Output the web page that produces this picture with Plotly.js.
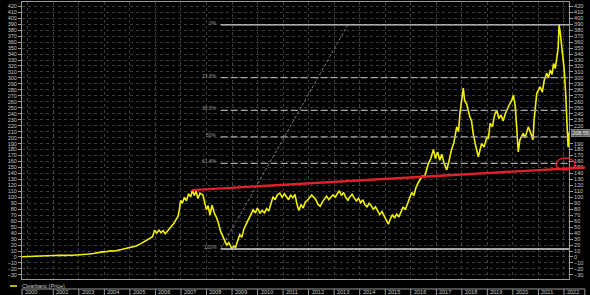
<!DOCTYPE html>
<html>
<head>
<meta charset="utf-8">
<script src="https://cdn.plot.ly/plotly-3.0.1.min.js"></script>
<style>html,body{margin:0;padding:0;background:#000;}#chart{width:590px;height:295px;}</style>
</head>
<body>
<div id="chart"></div>
<script>
// ---- data ----
const seriesName = "Clearbanc (Price)";
const dates = [
"2000-10-10","2000-12-01","2001-02-01","2001-04-01","2001-06-01","2001-08-01","2001-10-01","2001-12-01",
"2002-02-01","2002-04-01","2002-06-01","2002-08-01","2002-10-01","2002-12-01",
"2003-02-01","2003-04-01","2003-06-01","2003-08-01","2003-10-01","2003-12-01",
"2004-02-01","2004-04-01","2004-06-01","2004-08-01","2004-10-01","2004-12-01",
"2005-02-01","2005-04-01","2005-06-01","2005-08-01","2005-10-01","2005-11-20","2005-12-20",
"2006-01-20","2006-02-20","2006-03-20","2006-04-20","2006-05-20","2006-06-20","2006-07-20","2006-08-20","2006-09-20","2006-10-20","2006-11-20","2006-12-10","2006-12-28",
"2007-01-20","2007-02-20","2007-03-20","2007-04-20","2007-05-20","2007-06-15","2007-07-10","2007-08-05","2007-09-01","2007-10-01","2007-11-10","2007-12-10",
"2008-01-01","2008-01-25","2008-02-20","2008-03-20","2008-04-20","2008-05-20","2008-06-15","2008-07-15","2008-08-20","2008-09-20","2008-10-15","2008-11-15","2008-12-28",
"2009-01-25","2009-02-20","2009-03-10","2009-04-20","2009-05-20","2009-06-20","2009-07-25","2009-08-20","2009-09-20","2009-10-30","2009-11-30","2009-12-30",
"2010-02-05","2010-03-05","2010-04-10","2010-05-10","2010-06-10","2010-07-10","2010-08-10","2010-09-10","2010-10-10","2010-11-15","2010-12-20",
"2011-01-20","2011-02-20","2011-03-20","2011-04-20","2011-05-20","2011-06-20","2011-07-15","2011-08-15","2011-09-15","2011-10-15","2011-11-15","2011-12-15",
"2012-01-15","2012-02-15","2012-03-15","2012-04-15","2012-05-15","2012-06-15","2012-07-15","2012-08-15","2012-09-15","2012-10-15","2012-11-15","2012-12-15",
"2013-01-15","2013-02-15","2013-03-15","2013-04-15","2013-05-15","2013-06-15","2013-07-15","2013-08-15","2013-09-15","2013-10-15","2013-11-15","2013-12-15",
"2014-01-15","2014-02-15","2014-03-15","2014-04-15","2014-05-15","2014-06-15","2014-07-15","2014-08-15","2014-09-15","2014-10-15","2014-11-15","2014-12-15",
"2015-01-15","2015-02-15","2015-03-15","2015-04-15","2015-05-15","2015-06-15","2015-07-15","2015-08-15","2015-09-15","2015-10-15","2015-11-15","2015-12-15",
"2016-01-15","2016-02-15","2016-03-15","2016-04-15","2016-05-15","2016-06-15","2016-07-15","2016-08-15","2016-09-15","2016-10-15","2016-11-20","2016-12-20",
"2017-01-20","2017-02-20","2017-03-20","2017-04-20","2017-05-30","2017-06-30","2017-08-05","2017-09-10","2017-10-20","2017-11-15","2017-12-05",
"2018-01-22","2018-02-10","2018-03-10","2018-04-05","2018-04-25","2018-05-20","2018-06-12","2018-07-20","2018-08-25","2018-09-20","2018-10-12","2018-11-15","2018-12-25",
"2019-01-15","2019-02-10","2019-03-15","2019-04-15","2019-05-15","2019-06-15","2019-07-15","2019-08-15","2019-09-15","2019-10-05","2019-11-10","2019-12-15",
"2020-01-08","2020-02-05","2020-02-24","2020-03-18","2020-04-10","2020-05-28","2020-06-25","2020-08-08","2020-09-05","2020-09-28","2020-10-15","2020-10-30","2020-12-08",
"2021-01-25","2021-02-25","2021-03-25","2021-04-30","2021-05-25","2021-06-18","2021-07-15","2021-08-05","2021-08-30","2021-09-20","2021-10-10","2021-10-23","2021-11-10","2021-12-05",
"2022-01-01","2022-01-25","2022-02-01","2022-02-17","2022-03-02","2022-03-12"
];
const prices = [
0.5,0.8,1.2,1.0,1.5,1.3,1.8,2.2,
2.5,3.0,2.6,2.4,2.9,3.4,
3.6,4.2,5.0,5.8,7.5,8.5,
9.0,10.5,10.0,11.5,13.0,15.5,
17.0,18.5,22.0,26.0,30.0,34,45,
40,45,41,44,39,43,47,50,56,62,68,80,95,
90,100,94,106,101,112,103,110,98,107,104,92,
79,86,70,87,74,67,59,45,34,27,20,24,14.6,
18,16,23,37,33,47,56,62,70,79,74,82,
73,78,74,81,77,90,101,96,104,107,100,
106,101,96,104,99,105,90,78,88,82,92,95,
99,104,100,96,88,85,92,98,102,96,100,104,
100,106,111,103,108,100,95,101,105,99,94,98,
91,96,88,84,90,86,80,84,78,71,76,69,
62,55,64,71,65,72,67,76,84,79,90,99,
108,103,116,124,130,136,134,148,158,165,180,165,
176,162,172,158,146,160,179,192,218,210,241,
283,262,257,244,235,228,207,185,168,180,190,184,201,
198,224,218,238,246,232,238,228,240,246,255,262,
271,252,218,176,196,207,200,218,210,201,196,229,274,
285,276,296,308,300,313,306,324,316,330,350,389,375,347,
318,275,241,213,184,208.55
];
const lastPriceLabel = "208.55";
const yTickVals = [-30,-20,-10,0,10,20,30,40,50,60,70,80,90,100,110,120,130,140,150,160,170,180,190,200,210,220,230,240,250,260,270,280,290,300,310,320,330,340,350,360,370,380,390,400,410,420];
const yearLabels = ["2000","2002","2003","2004","2005","2006","2007","2008","2009","2010","2011","2012","2013","2014","2015","2016","2017","2018","2019","2020","2021","2022"];
const yearStarts = ["2000-10-10","2002-01-01","2003-01-01","2004-01-01","2005-01-01","2006-01-01","2007-01-01","2008-01-01","2009-01-01","2010-01-01","2011-01-01","2012-01-01","2013-01-01","2014-01-01","2015-01-01","2016-01-01","2017-01-01","2018-01-01","2019-01-01","2020-01-01","2021-01-01","2022-01-01"];
// Fibonacci retracement anchors
const fibStart = "2008-07-22", fibLow = 13.4;
const fibEnd = "2013-07-16", fibHigh = 389;
const fibLevels = [0, 23.6, 38.2, 50, 61.8, 100];
const fibLabels = ["0%", "23.6%", "38.2%", "50%", "61.8%", "100%"];
// Red trend line
const trendStart = "2007-06-03", trendStartVal = 112;
const trendEnd = "2022-10-30", trendEndVal = 150;
// Red ellipse
const ringX = ["2021-09-09", "2022-06-06"], ringY = [145.7, 165.8];

// ---- layout helpers ----
const xRange = ["2000-10-10", "2022-03-14"];
const yRange = [-36.9, 427.2];
const t0 = Date.parse(xRange[0]), t1 = Date.parse(xRange[1]);
const px = d => (Date.parse(d) - t0) / (t1 - t0);

const gridCol = "#3c3c3c", lblCol = "#c8c8c8", fnt = "Liberation Sans, Arial, sans-serif";

const shapes = [];
const annotations = [];

// fib lines
const fibStep = fibHigh - fibLow;
fibLevels.forEach((p, i) => {
  const v = fibHigh - fibStep * p / 100;
  const solid = (p === 0 || p === 100);
  shapes.push({type: "line", xref: "x", yref: "y", x0: fibStart, x1: xRange[1], y0: v, y1: v,
    line: {color: solid ? "#d8d8d8" : "#a8a8a8", width: solid ? 1.3 : 1.2, dash: solid ? "solid" : "7px,3px"}});
  annotations.push({xref: "x", yref: "y", x: fibStart, y: v, xanchor: "right", yanchor: "middle", xshift: -2, yshift: 2,
    text: fibLabels[i], showarrow: false, font: {size: 5, color: "#9a9a9a", family: fnt}});
});
// diagonal fib trend
shapes.push({type: "line", xref: "x", yref: "y", x0: fibStart, y0: fibLow, x1: fibEnd, y1: fibHigh,
  line: {color: "#9a9a9a", width: 0.8, dash: "3px,2px"}});
// red trend line (extends past plot edge)
shapes.push({type: "line", xref: "paper", yref: "y", x0: px(trendStart), y0: trendStartVal, x1: px(trendEnd), y1: trendEndVal,
  line: {color: "#e0202a", width: 2.4}});
// red ellipse
shapes.push({type: "circle", xref: "paper", yref: "y", x0: px(ringX[0]), x1: px(ringX[1]), y0: ringY[0], y1: ringY[1],
  line: {color: "#e0202a", width: 1.4}});

// year boxes row
const boxTop = -0.0361, boxBot = -0.07, boxRight = 1.029;
shapes.push({type: "line", xref: "paper", yref: "paper", x0: 0, x1: boxRight, y0: boxTop, y1: boxTop, line: {color: "#9a9a9a", width: 1}});
yearStarts.forEach((d, i) => {
  const xp = px(d);
  shapes.push({type: "line", xref: "paper", yref: "paper", x0: xp, x1: xp, y0: boxTop, y1: boxBot, line: {color: "#9a9a9a", width: 1}});
  annotations.push({xref: "paper", yref: "paper", x: xp, y: -0.047, xanchor: "left", yanchor: "middle", xshift: 1,
    text: yearLabels[i], showarrow: false, font: {size: 5.5, color: lblCol, family: fnt}});
});
shapes.push({type: "line", xref: "paper", yref: "paper", x0: boxRight, x1: boxRight, y0: boxTop, y1: boxBot, line: {color: "#9a9a9a", width: 1}});

// legend
shapes.push({type: "line", xref: "paper", yref: "paper", x0: -0.022, x1: -0.009, y0: -0.0253, y1: -0.0253, line: {color: "#f2f200", width: 1.5}});
annotations.push({xref: "paper", yref: "paper", x: -0.004, y: -0.0253, xanchor: "left", yanchor: "middle",
  text: seriesName, showarrow: false, font: {size: 5.5, color: lblCol, family: fnt}});

// last price label on right axis
const lastVal = prices[prices.length - 1];
annotations.push({xref: "paper", yref: "y", x: 1.004, y: lastVal, xanchor: "left", yanchor: "middle",
  text: lastPriceLabel, showarrow: false, bgcolor: "#5a5a5a", bordercolor: "#a0a0a0", borderwidth: 0.6, borderpad: 0.5,
  font: {size: 5.5, color: "#eeeeee", family: fnt}});
// right-axis labels hidden behind the price box
const rightTicks = yTickVals.filter(v => Math.abs(v - lastVal) > 10);

const traces = [
  {type: "scatter", mode: "lines", x: dates, y: prices, name: seriesName,
   line: {color: "#f2f200", width: 1.6}, hoverinfo: "skip"},
  {type: "scatter", mode: "lines", x: dates, y: prices, yaxis: "y2", opacity: 0, showlegend: false, hoverinfo: "skip",
   line: {color: "rgba(0,0,0,0)", width: 0}}
];

const yAxisCommon = {
  range: yRange, ticks: "outside", ticklen: 3, tickwidth: 1, tickcolor: "#9a9a9a",
  tickfont: {size: 5.5, color: lblCol, family: fnt}, zeroline: false, fixedrange: true
};

const layout = {
  width: 590, height: 295,
  margin: {l: 22, r: 21, t: 2, b: 16, pad: 0},
  paper_bgcolor: "#000", plot_bgcolor: "#000",
  showlegend: false,
  xaxis: {type: "date", range: xRange, tick0: "2000-01-01", dtick: "M12", showticklabels: false, ticks: "",
    showgrid: true, gridcolor: gridCol, griddash: "dot", gridwidth: 1,
    showline: true, linecolor: "#9a9a9a", linewidth: 1, mirror: true, zeroline: false},
  yaxis: Object.assign({}, yAxisCommon, {side: "left", tickmode: "array", tickvals: yTickVals,
    showgrid: true, gridcolor: gridCol, griddash: "dot", gridwidth: 1,
    showline: true, linecolor: "#9a9a9a", linewidth: 1, mirror: true}),
  yaxis2: Object.assign({}, yAxisCommon, {side: "right", overlaying: "y", tickmode: "array", tickvals: rightTicks,
    showgrid: false, showline: false}),
  shapes: shapes,
  annotations: annotations
};

Plotly.newPlot("chart", traces, layout, {staticPlot: true, displayModeBar: false});
</script>
</body>
</html>
